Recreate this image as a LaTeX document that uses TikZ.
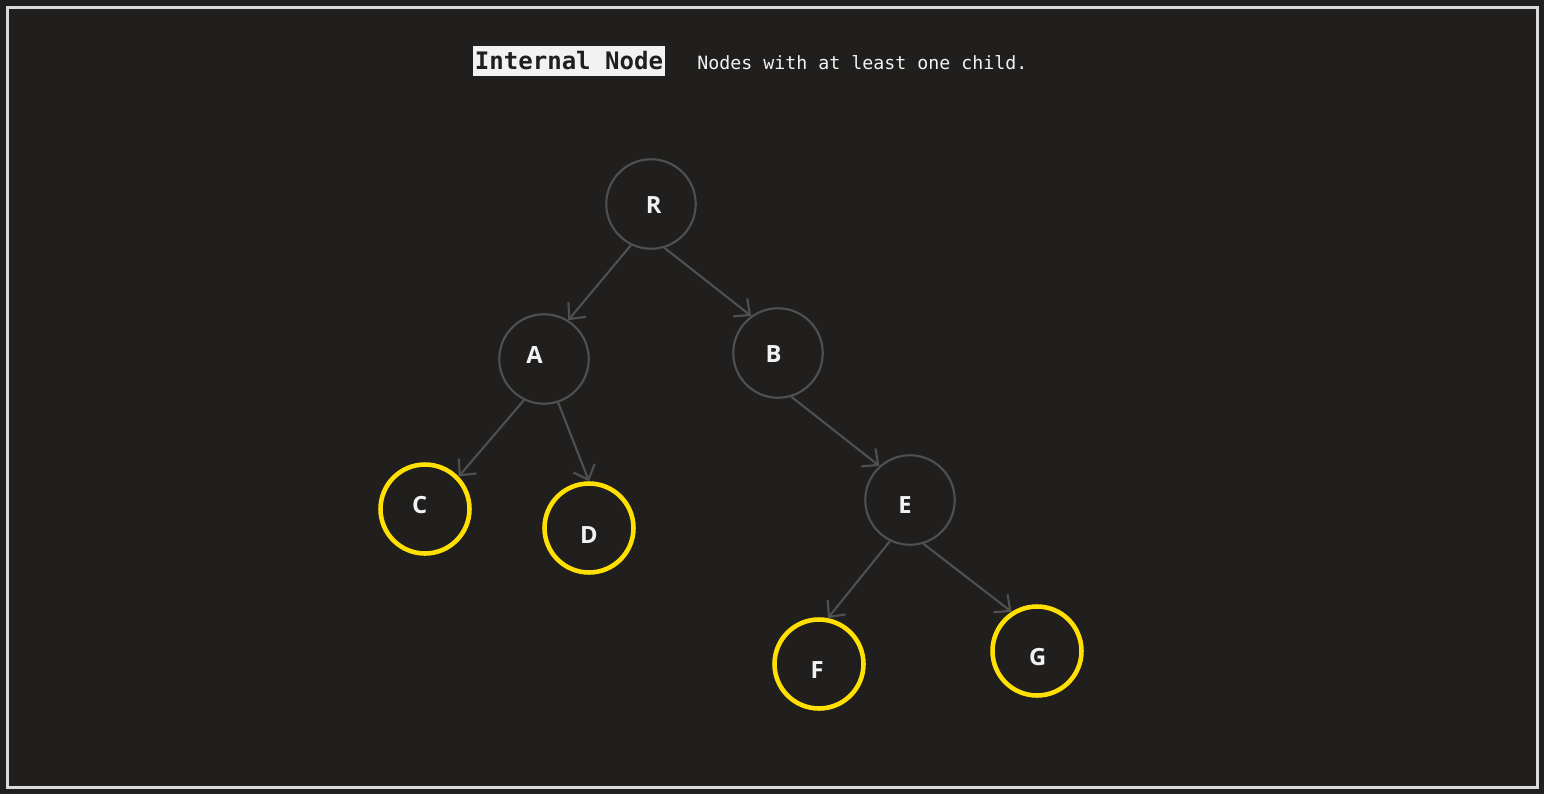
\documentclass[tikz,border=0pt]{standalone}
\usepackage{fontspec}
\setmainfont{Open Sans}
\newfontfamily\codefont{DejaVu Sans Mono}
\usetikzlibrary{arrows.meta}
\definecolor{bgdark}{HTML}{201F1E}
\definecolor{framegray}{HTML}{DADADA}
\definecolor{ringgray}{HTML}{505050}
\definecolor{leafyellow}{HTML}{FFE000}
\definecolor{tagwhite}{HTML}{F2F2F2}

\tikzset{
    vertex/.style={circle, draw=ringgray, line width=1.2pt, minimum size=1.79cm, inner sep=0pt},
    leaf/.style={circle, draw=leafyellow, line width=2.6pt, minimum size=1.78cm, inner sep=0pt},
    tag/.style={text=tagwhite, font=\bfseries\fontsize{13.5}{15}\selectfont, inner sep=0pt},
    link/.style={draw=ringgray, line width=1.2pt, -{Straight Barb[length=7pt,width=13pt]}}
}

\begin{document}
\begin{tikzpicture}[x=0.02cm, y=-0.02cm]
    \fill[bgdark] (0,0) rectangle (1544,794);
    \draw[framegray, line width=1.7pt] (7.5,7.5) rectangle (1537.5,787);
    \useasboundingbox (0,0) rectangle (1544,794);

    \node[fill=tagwhite, text=bgdark, minimum width=3.84cm, minimum height=0.6cm, inner sep=0pt,
        font=\codefont\bfseries\fontsize{13.7}{15}\selectfont] (title) at (569,61) {Internal Node};
    \node[anchor=base west, inner sep=0pt, text=tagwhite,
        font=\codefont\fontsize{10.4}{12}\selectfont] (subtitle) at (697,70) {Nodes with at least one child.};

    \node[vertex] (R) at (651,204) {};
    \node[vertex] (A) at (544,359) {};
    \node[vertex] (B) at (778,353) {};
    \node[vertex] (E) at (910,500) {};
    \node[leaf] (C) at (425,509) {};
    \node[leaf] (D) at (589,528) {};
    \node[leaf] (F) at (819,664) {};
    \node[leaf] (G) at (1037,651) {};

    \node[tag] (R-t) at (653.7,205) {R};
    \node[tag] (A-t) at (534.5,354.7) {A};
    \node[tag] (B-t) at (773.7,354.4) {B};
    \node[tag] (C-t) at (419.7,505) {C};
    \node[tag] (D-t) at (589,535) {D};
    \node[tag] (E-t) at (905,505) {E};
    \node[tag] (F-t) at (817,670) {F};
    \node[tag] (G-t) at (1037.7,657) {G};

    \draw[link] (R.244) -- (A.58);
    \draw[link] (R.287) -- (B.126);
    \draw[link] (A.244) -- (C.44);
    \draw[link] (A.288) -- (D.90);
    \draw[link] (B.287) -- (E.132);
    \draw[link] (E.244) -- (F.79);
    \draw[link] (E.287) -- (G.123);
\end{tikzpicture}
\end{document}
